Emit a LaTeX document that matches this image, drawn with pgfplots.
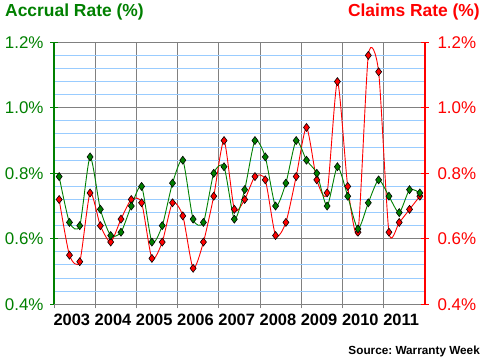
\documentclass[border=0pt]{standalone}
\usepackage{pgfplots}
\pgfplotsset{compat=1.18}
\usepackage{fontspec}
\setmainfont{Liberation Sans}
\frenchspacing
\definecolor{dgreen}{RGB}{0,128,0}
\definecolor{gridgray}{RGB}{128,128,128}
\definecolor{lblue}{RGB}{153,204,255}
\begin{document}
\begin{tikzpicture}
\begin{axis}[name=a,
  scale only axis, width=371bp, height=262bp,
  xmin=2003, xmax=2012, ymin=0.4, ymax=1.2,
  axis y line*=left, axis x line*=bottom,
  y axis line style={draw=dgreen, line width=1.2bp},
  x axis line style={draw=gridgray, line width=1bp},
  xtick={2003,...,2011},
  xticklabels={2003,2004,2005,2006,2007,2008,2009,2010,2011},
  xticklabel style={anchor=north west, xshift=-4bp, yshift=-2bp, font=\fontsize{16.5}{18}\selectfont\bfseries},
  xtick style={draw=gridgray, line width=1bp},
  ytick={0.4,0.6,...,1.2},
  yticklabels={0.4\%,0.6\%,0.8\%,1.0\%,1.2\%},
  yticklabel style={text=dgreen, font=\fontsize{17}{18}\selectfont, xshift=-3bp},
  ytick style={draw=dgreen, line width=1.2bp},
  minor ytick={0.44,0.48,...,1.19},
  tick align=center, major tick length=8bp, minor tick length=0pt,
  xmajorgrids=true, ymajorgrids=true, yminorgrids=true,
  major grid style={draw=gridgray, line width=1bp},
  minor grid style={draw=lblue, line width=1bp},
  clip=false,
]
\addplot[red, line width=0.9bp, smooth, tension=0.4, mark=diamond*, mark size=4bp, mark options={fill=red, draw=black, line width=0.6bp}] coordinates {
(2003.125,0.72)(2003.375,0.55)(2003.625,0.53)(2003.875,0.74)
(2004.125,0.64)(2004.375,0.59)(2004.625,0.66)(2004.875,0.72)
(2005.125,0.71)(2005.375,0.54)(2005.625,0.59)(2005.875,0.71)
(2006.125,0.67)(2006.375,0.51)(2006.625,0.59)(2006.875,0.73)
(2007.125,0.90)(2007.375,0.69)(2007.625,0.72)(2007.875,0.79)
(2008.125,0.78)(2008.375,0.61)(2008.625,0.65)(2008.875,0.79)
(2009.125,0.94)(2009.375,0.78)(2009.625,0.74)(2009.875,1.08)
(2010.125,0.76)(2010.375,0.62)(2010.625,1.16)(2010.875,1.11)
(2011.125,0.62)(2011.375,0.65)(2011.625,0.69)(2011.875,0.73)
};
\addplot[dgreen, line width=0.9bp, smooth, tension=0.4, mark=diamond*, mark size=4bp, mark options={fill=dgreen, draw=black, line width=0.6bp}] coordinates {
(2003.125,0.79)(2003.375,0.65)(2003.625,0.64)(2003.875,0.85)
(2004.125,0.69)(2004.375,0.61)(2004.625,0.62)(2004.875,0.70)
(2005.125,0.76)(2005.375,0.59)(2005.625,0.64)(2005.875,0.77)
(2006.125,0.84)(2006.375,0.66)(2006.625,0.65)(2006.875,0.80)
(2007.125,0.82)(2007.375,0.66)(2007.625,0.75)(2007.875,0.90)
(2008.125,0.85)(2008.375,0.70)(2008.625,0.77)(2008.875,0.90)
(2009.125,0.84)(2009.375,0.80)(2009.625,0.70)(2009.875,0.82)
(2010.125,0.73)(2010.375,0.63)(2010.625,0.71)(2010.875,0.78)
(2011.125,0.73)(2011.375,0.68)(2011.625,0.75)(2011.875,0.74)
};
\end{axis}
\begin{axis}[
  scale only axis, width=371bp, height=262bp,
  xmin=2003, xmax=2012, ymin=0.4, ymax=1.2,
  axis y line*=right, axis x line=none,
  y axis line style={draw=red, line width=1.2bp},
  ytick={0.4,0.6,...,1.2},
  yticklabels={0.4\%,0.6\%,0.8\%,1.0\%,1.2\%},
  yticklabel style={text=red, font=\fontsize{17}{18}\selectfont, xshift=5bp},
  ytick style={draw=red, line width=1.2bp},
  tick align=center, major tick length=8bp,
]
\end{axis}
\node[anchor=west, text=dgreen, font=\fontsize{17.5}{18}\selectfont\bfseries, inner sep=0pt] at ([xshift=-49bp, yshift=30.8bp]a.north west) {Accrual Rate (\%)};
\node[anchor=east, text=red, font=\fontsize{17.5}{18}\selectfont\bfseries, inner sep=0pt] at ([xshift=55bp, yshift=30.8bp]a.north east) {Claims Rate (\%)};
\node[anchor=east, text=black, font=\fontsize{11.8}{13}\selectfont\bfseries, inner sep=0pt] at ([xshift=55bp, yshift=-46.7bp]a.south east) {Source: Warranty Week};
\pgfresetboundingbox
\path[use as bounding box] ([xshift=-54bp, yshift=-57.7bp]a.south west) rectangle ([xshift=60bp, yshift=42.3bp]a.north east);
\end{tikzpicture}
\end{document}
